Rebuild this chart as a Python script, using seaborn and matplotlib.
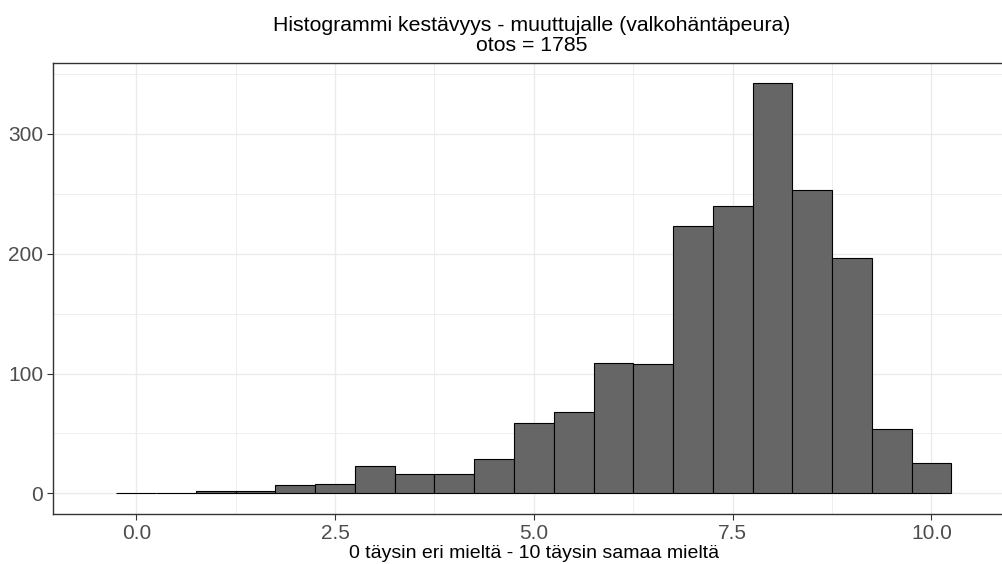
import numpy as np
import pandas as pd
import matplotlib
matplotlib.use("Agg")
import matplotlib.pyplot as plt
import seaborn as sns
from matplotlib.ticker import MultipleLocator

# Data (bin width 0.5, centred on 0, 0.5, ..., 10)
bin_centers = [0.0, 0.5, 1.0, 1.5, 2.0, 2.5, 3.0, 3.5, 4.0, 4.5, 5.0,
               5.5, 6.0, 6.5, 7.0, 7.5, 8.0, 8.5, 9.0, 9.5, 10.0]
counts = [0, 0, 2, 2, 7, 8, 23, 16, 16, 29, 59,
          68, 109, 108, 223, 240, 342, 253, 196, 54, 25]
x_ticks = [0.0, 2.5, 5.0, 7.5, 10.0]
x_tick_labels = ["0.0", "2.5", "5.0", "7.5", "10.0"]
y_ticks = [0, 100, 200, 300]
title_text = "Histogrammi kestävyys - muuttujalle (valkohäntäpeura)\notos = 1785"
x_label = "0 täysin eri mieltä - 10 täysin samaa mieltä"

df = pd.DataFrame({"value": bin_centers, "n": counts})

sns.set_theme(style="white")
plt.rcParams["font.family"] = ["Liberation Sans", "DejaVu Sans"]

W, H = 1003, 564
fig = plt.figure(figsize=(W / 100, H / 100), dpi=100)
ax = fig.add_axes([53 / W, (H - 514) / H, (1015 - 53) / W, (514 - 63) / H])

sns.histplot(data=df, x="value", weights="n", binwidth=0.5, binrange=(-0.25, 10.25),
             ax=ax, color="#666666", edgecolor="black", linewidth=0.8, alpha=1.0)

ax.set_xlim(-1.047, 11.05)
ax.set_ylim(-17.2, 359.1)

ax.set_xticks(x_ticks)
ax.set_xticklabels(x_tick_labels)
ax.set_yticks(y_ticks)
ax.xaxis.set_minor_locator(MultipleLocator(1.25))
ax.yaxis.set_minor_locator(MultipleLocator(50))

ax.set_axisbelow(True)
ax.grid(which="major", color="#EBEBEB", linewidth=1.0)
ax.grid(which="minor", color="#EBEBEB", linewidth=0.6)

for s in ax.spines.values():
    s.set_color("#333333")
    s.set_linewidth(1.0)
    s.set_visible(True)

ax.tick_params(axis="both", which="major", length=4, width=0.8, color="#333333",
               labelsize=15, labelcolor="#4D4D4D", pad=3, direction="out",
               bottom=True, left=True)
ax.tick_params(axis="both", which="minor", length=0)

ax.set_ylabel("")
ax.set_xlabel(x_label, fontsize=14, color="black", labelpad=2)
fig.text(532 / W, 1 - 35.5 / H, title_text, ha="center", va="center",
         fontsize=15.3, color="black", linespacing=1.12)

fig.savefig("out.png", dpi=100)
